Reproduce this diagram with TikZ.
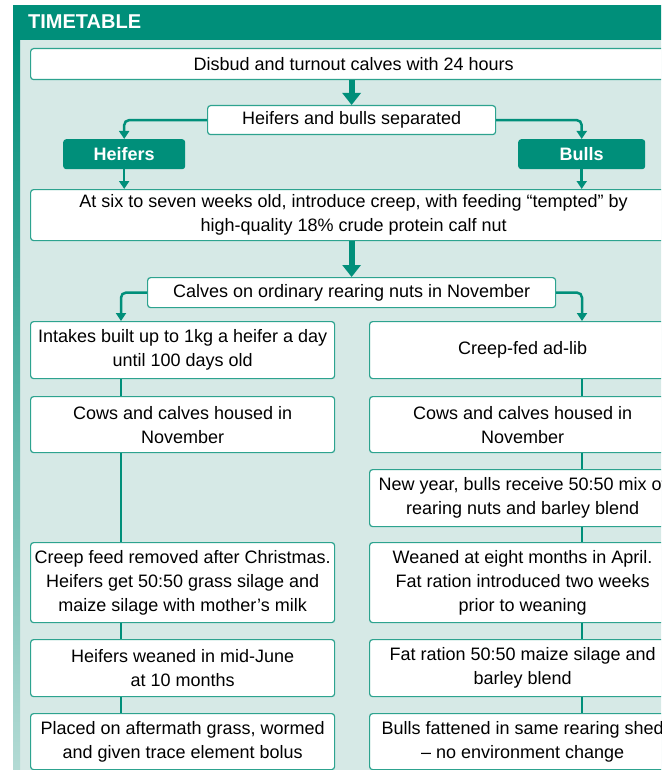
\documentclass[tikz,border=0pt]{standalone}
\usepackage{fontspec}
\setmainfont{Liberation Sans}
\usetikzlibrary{arrows.meta}
\definecolor{ttteal}{RGB}{0,143,122}
\definecolor{ttline}{RGB}{45,163,143}
\definecolor{ttpanel}{RGB}{214,233,230}
\begin{document}
\begin{tikzpicture}[x=1pt,y=-1pt,
	box/.style={draw=ttline,line width=1.2pt,fill=white,rounded corners=3pt,anchor=north west,align=center,inner sep=0pt,font=\fontsize{18}{24}\selectfont},
	tag/.style={fill=ttteal,rounded corners=3pt,anchor=north west,inner sep=0pt,text=white,font=\bfseries\fontsize{18}{24}\selectfont},
	link/.style={draw=ttteal,line width=2.5pt,rounded corners=5pt},
	tip/.style={-{Triangle[width=10pt,length=8pt]}},
	bigarrow/.style={draw=ttteal,line width=6pt,-{Triangle[width=18pt,length=12pt]}}]
	\useasboundingbox (0,0) rectangle (661,770);
	\clip (0,0) rectangle (661,770);
	\fill[ttpanel] (20,40) rectangle (700,780);
	\fill[ttteal] (13,5) rectangle (700,40);
	\shade[top color=ttteal,bottom color=ttpanel!85!ttteal] (13,40) rectangle (20,780);
	\node[anchor=west,text=white,font=\bfseries\fontsize{20}{24}\selectfont,inner sep=0pt] (title) at (28,22) {TIMETABLE};
	\coordinate (lcol) at (121,0);
	\coordinate (rcol) at (582,0);
	\node[box,minimum width=646pt,minimum height=31pt] (disbud) at (30,48) {Disbud and turnout calves with 24 hours};
	\node[box,minimum width=288pt,minimum height=29pt] (separated) at (207,105) {Heifers and bulls separated};
	\node[tag,minimum width=122pt,minimum height=30pt] (heifers) at (63,139) {Heifers};
	\node[tag,minimum width=127pt,minimum height=30pt] (bulls) at (518,139) {Bulls};
	\node[box,minimum width=646pt,minimum height=51pt] (creep) at (30,189) {At six to seven weeks old, introduce creep, with feeding “tempted” by\\high-quality 18\% crude protein calf nut};
	\node[box,minimum width=408pt,minimum height=30pt] (ordinary) at (147,277) {Calves on ordinary rearing nuts in November};
	\node[box,minimum width=304pt,minimum height=57pt] (intakes) at (30,321) {Intakes built up to 1kg a heifer a day\\until 100 days old};
	\node[box,minimum width=306pt,minimum height=57pt] (adlib) at (369,321) {Creep-fed ad-lib};
	\node[box,minimum width=304pt,minimum height=56pt] (cowsl) at (30,396) {Cows and calves housed in\\November};
	\node[box,minimum width=306pt,minimum height=56pt] (cowsr) at (369,396) {Cows and calves housed in\\November};
	\node[box,minimum width=306pt,minimum height=57pt] (newyear) at (369,469) {New year, bulls receive 50:50 mix of\\rearing nuts and barley blend};
	\node[box,minimum width=304pt,minimum height=80pt] (removed) at (30,542) {Creep feed removed after Christmas.\\Heifers get 50:50 grass silage and\\maize silage with mother’s milk};
	\node[box,minimum width=306pt,minimum height=80pt] (april) at (369,542) {Weaned at eight months in April.\\Fat ration introduced two weeks\\prior to weaning};
	\node[box,minimum width=304pt,minimum height=57pt] (june) at (30,639) {Heifers weaned in mid-June\\at 10 months};
	\node[box,minimum width=306pt,minimum height=57pt] (fatration) at (369,639) {Fat ration 50:50 maize silage and\\barley blend};
	\node[box,minimum width=304pt,minimum height=56pt] (aftermath) at (30,713) {Placed on aftermath grass, wormed\\and given trace element bolus};
	\node[box,minimum width=306pt,minimum height=56pt] (fattened) at (369,713) {Bulls fattened in same rearing shed\\– no environment change};
	\draw[bigarrow] (disbud.south -| separated.north) -- (separated.north);
	\draw[link,tip] (separated.west) -| (heifers.north);
	\draw[link,tip] (separated.east) -| (bulls.north);
	\draw[link,tip] (heifers.south) -- (heifers.south |- creep.north);
	\draw[link,tip] (bulls.south) -- (bulls.south |- creep.north);
	\draw[bigarrow] (creep.south -| ordinary.north) -- (ordinary.north);
	\draw[link,tip] (ordinary.west) -| (lcol |- intakes.north);
	\draw[link,tip] (ordinary.east) -| (rcol |- adlib.north);
	\draw[link] (lcol |- intakes.south) -- (lcol |- cowsl.north);
	\draw[link] (lcol |- cowsl.south) -- (lcol |- removed.north);
	\draw[link] (lcol |- removed.south) -- (lcol |- june.north);
	\draw[link] (lcol |- june.south) -- (lcol |- aftermath.north);
	\draw[link] (rcol |- adlib.south) -- (rcol |- cowsr.north);
	\draw[link] (rcol |- cowsr.south) -- (rcol |- newyear.north);
	\draw[link] (rcol |- newyear.south) -- (rcol |- april.north);
	\draw[link] (rcol |- april.south) -- (rcol |- fatration.north);
	\draw[link] (rcol |- fatration.south) -- (rcol |- fattened.north);
\end{tikzpicture}
\end{document}
